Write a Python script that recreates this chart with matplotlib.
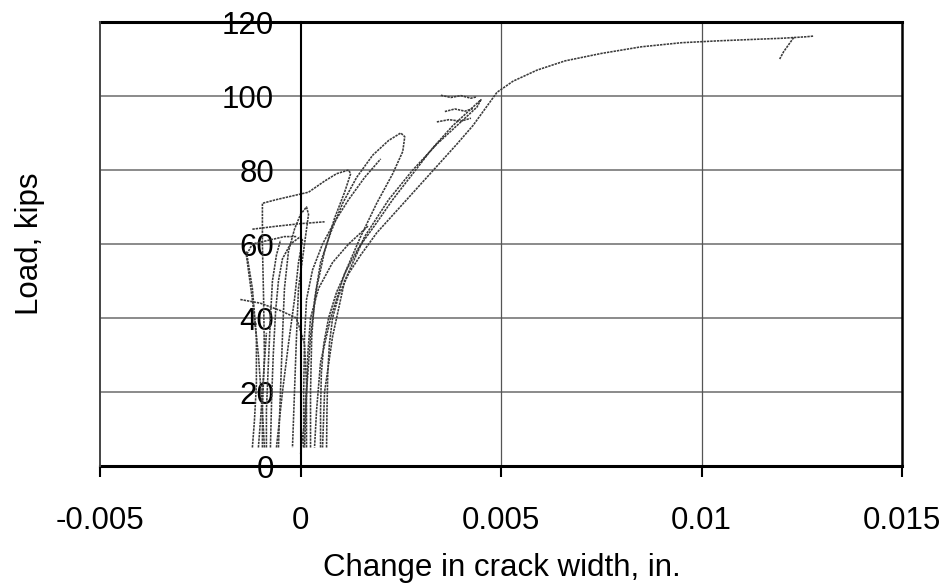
import matplotlib.pyplot as plt

plt.rcParams['font.family'] = ['Liberation Sans', 'DejaVu Sans']

# crack width in units of 1e-3 in., load in kips
env_x = [0.65, 0.66, 0.68, 0.72, 0.8, 0.95, 1.2, 1.5, 1.9, 2.4, 2.9, 3.4, 3.9, 4.3,
         4.6, 4.9, 5.3, 5.9, 6.6, 7.5, 8.5, 9.5, 10.4, 11.3, 12.0, 12.6, 12.8]
env_y = [5, 15, 25, 33, 40, 46, 52, 57, 63, 69, 75, 81, 87, 92,
         96.5, 101, 104, 107, 109.5, 111.5, 113.3, 114.4, 114.9, 115.3, 115.6, 116, 116.2]
tail_x = [12.3, 12.05, 11.95]
tail_y = [115.8, 112, 110]

cyc7_x = [0.5, 0.5, 0.52, 0.58, 0.7, 0.9, 1.15, 1.45, 1.85, 2.3, 2.8, 3.3, 3.8, 4.2, 4.5,
          4.4, 4.0, 3.4, 2.8, 2.2, 1.6, 1.1, 0.8, 0.6, 0.55]
cyc7_y = [5, 15, 25, 33, 40, 47, 53, 59, 65, 72, 79, 86, 92, 96, 99,
          97, 93, 87, 80, 72, 62, 50, 35, 20, 5]

cyc6_x = [0.25, 0.25, 0.28, 0.35, 0.5, 0.75, 1.05, 1.4, 1.8, 2.2, 2.5,
          2.6, 2.55, 2.3, 1.9, 1.5, 1.1, 0.75, 0.5, 0.4, 0.35]
cyc6_y = [5, 20, 35, 45, 55, 63, 71, 78, 84, 88, 90,
          89, 85, 79, 71, 62, 52, 40, 28, 15, 5]

cyc5_x = [-0.95, -0.95, -0.9, -0.92, -0.95, -0.95, -0.6, -0.2, 0.2, 0.6, 0.9, 1.2,
          1.25, 1.1, 0.85, 0.6, 0.4, 0.25, 0.15, 0.1]
cyc5_y = [5, 15, 30, 45, 60, 71, 72, 73, 74, 77, 79, 80,
          79, 74, 67, 58, 48, 35, 20, 5]

cyc4_x = [-0.55, -0.5, -0.45, -0.4, -0.3, -0.15, 0.0, 0.15, 0.2, 0.1, -0.05, -0.1, -0.15, -0.2]
cyc4_y = [5, 20, 35, 48, 58, 64, 68, 70, 68, 60, 48, 35, 20, 5]

cyc3_x = [-0.9, -0.95, -1.05, -1.2, -1.35, -1.2, -0.8, -0.4, -0.1]
cyc3_y = [5, 15, 30, 45, 57, 60, 61, 62, 62]

cyc2_x = [-0.75, -0.72, -0.68, -0.62, -0.55, -0.45, -0.25, 0.0, 0.05, -0.05, -0.15, -0.3, -0.45, -0.6]
cyc2_y = [5, 18, 30, 42, 50, 56, 60, 62, 61, 55, 45, 33, 20, 5]

left1_x = [-1.2, -1.15, -1.1, -1.1, -1.2, -1.35]
left1_y = [5, 12, 22, 35, 48, 58]
left2_x = [-0.85, -0.85, -0.8, -0.75, -0.7, -0.6, -0.5]
left2_y = [5, 15, 28, 40, 50, 57, 61]
left3_x = [-1.05, -1.0, -0.95, -0.9, -0.85]
left3_y = [5, 12, 20, 28, 36]

mid1_x = [0.08, 0.08, 0.1, 0.15, 0.3, 0.55, 0.85, 1.2, 1.6, 2.0]
mid1_y = [5, 20, 35, 45, 53, 60, 66, 72, 78, 83]
mid2_x = [0.15, 0.15, 0.18, 0.25, 0.45, 0.8, 1.2, 1.7]
mid2_y = [5, 18, 30, 40, 48, 55, 60, 65]

cross_x = [-1.2, -0.6, 0.0, 0.6]
cross_y = [64, 64.8, 65.5, 66]

drop_x = [-1.5, -1.0, -0.5, -0.1, 0.1, 0.15, 0.1, 0.0]
drop_y = [45, 44, 42, 40, 33, 22, 12, 3]

hatch_a_x = [3.5, 3.75, 4.0, 4.25, 4.4]
hatch_a_y = [100.2, 99.6, 100.1, 99.4, 99.8]
hatch_b_x = [3.6, 3.85, 4.1, 4.3]
hatch_b_y = [95.8, 96.5, 95.9, 96.6]
hatch_c_x = [3.4, 3.7, 4.0, 4.25]
hatch_c_y = [93, 93.6, 93.2, 94]

curves = [(env_x, env_y), (tail_x, tail_y), (cyc7_x, cyc7_y), (cyc6_x, cyc6_y),
          (cyc5_x, cyc5_y), (cyc4_x, cyc4_y), (cyc3_x, cyc3_y), (cyc2_x, cyc2_y),
          (left1_x, left1_y), (left2_x, left2_y), (left3_x, left3_y),
          (mid1_x, mid1_y), (mid2_x, mid2_y),
          (cross_x, cross_y), (drop_x, drop_y), (hatch_a_x, hatch_a_y),
          (hatch_b_x, hatch_b_y), (hatch_c_x, hatch_c_y)]

x_ticks = [-0.005, 0, 0.005, 0.01, 0.015]
x_labels = ['-0.005', '0', '0.005', '0.01', '0.015']
y_ticks = [0, 20, 40, 60, 80, 100, 120]

fig = plt.figure(figsize=(9.43, 5.88), dpi=100)
ax = fig.add_axes([100/943, 1 - 466/588, 802/943, 444/588])

for gy in y_ticks[1:-1]:
    ax.axhline(gy, color='#8a8a8a', lw=1.4, zorder=1)
for gx in [0.005, 0.01]:
    ax.axvline(gx, color='#555555', lw=0.9, zorder=1)

for cx, cy in curves:
    ax.plot([v * 1e-3 for v in cx], cy, color='#3a3a3a', lw=1.15,
            linestyle=(0, (1.5, 0.6)), zorder=2)

ax.set_xlim(-0.005, 0.015)
ax.set_ylim(0, 120)

ax.spines['left'].set_position(('data', 0))
ax.spines['left'].set_linewidth(1.5)
ax.spines['bottom'].set_linewidth(2.2)
ax.spines['top'].set_linewidth(2.2)
ax.spines['right'].set_linewidth(1.8)
ax.plot([-0.005, -0.005], [0, 120], color='#444444', lw=1.4, clip_on=False, zorder=3)

ax.set_xticks(x_ticks)
ax.set_xticklabels(x_labels, fontsize=22.5)
ax.set_yticks(y_ticks)
ax.set_yticklabels([str(v) for v in y_ticks], fontsize=22.5)
ax.tick_params(axis='x', direction='out', length=8, width=1.5, pad=21)
ax.tick_params(axis='y', length=0, pad=19)

fig.text(30/943, 1 - 244/588, 'Load, kips', rotation=90, fontsize=22.5,
         ha='center', va='center')
fig.text(502/943, 1 - 568/588, 'Change in crack width, in.', fontsize=22.5,
         ha='center', va='center')

fig.savefig('out.png', dpi=100)
